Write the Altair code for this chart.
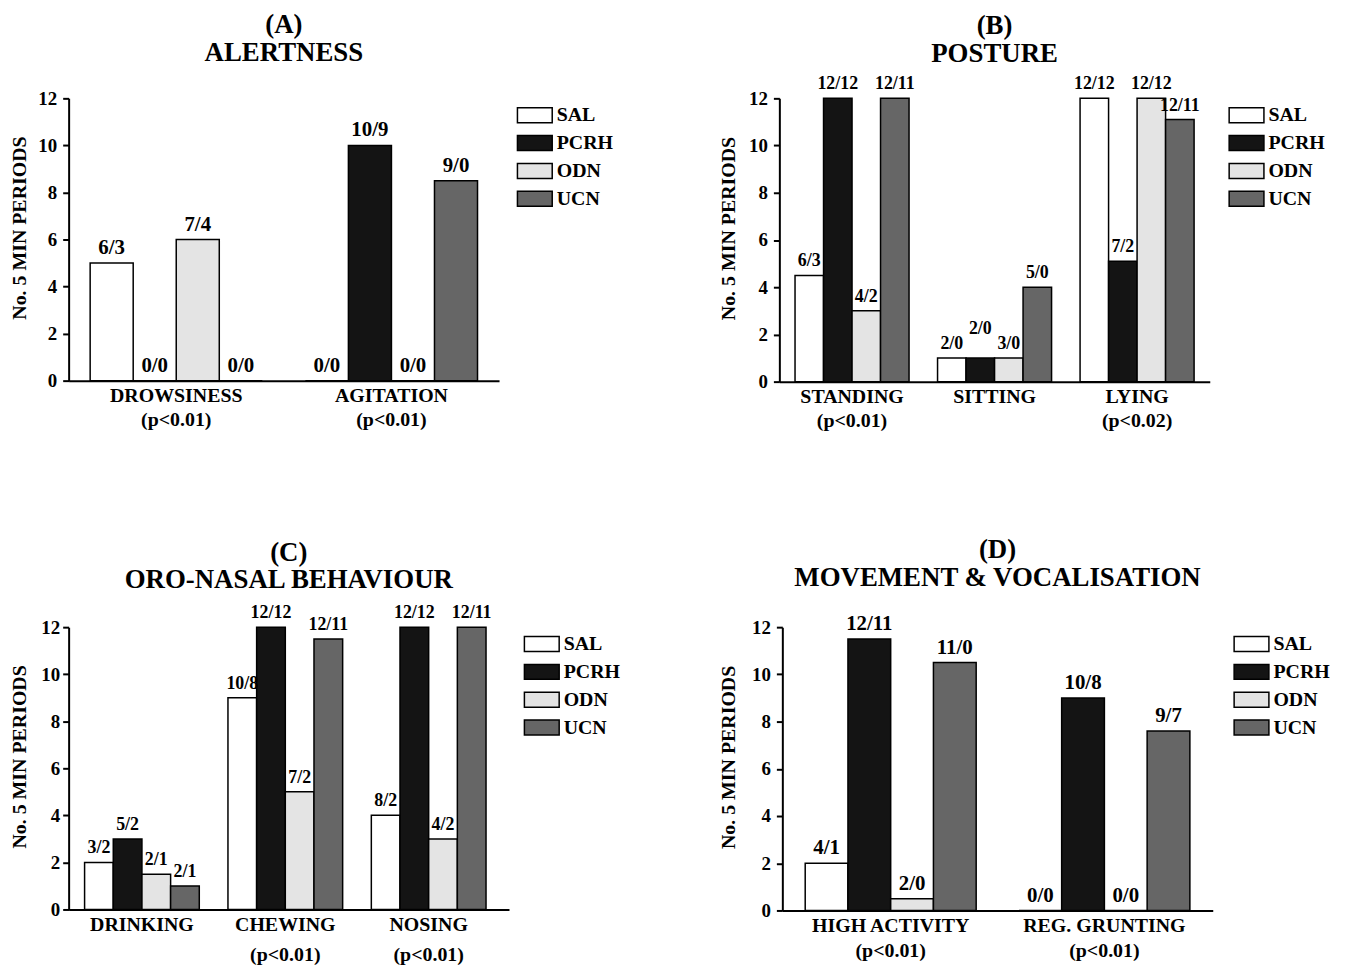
import altair as alt
import pandas as pd

FONT = "Liberation Serif"

groups = ["SAL", "PCRH", "ODN", "UCN"]
fills = ["#ffffff", "#141414", "#e4e4e4", "#666666"]

# Panel A
a_cats = ["DROWSINESS", "AGITATION"]
a_pvals = ["(p<0.01)", "(p<0.01)"]
a_values = {"SAL": [5, 0], "PCRH": [0, 10], "ODN": [6, 0], "UCN": [0, 8.5]}
a_labels = {"SAL": ["6/3", "0/0"], "PCRH": ["0/0", "10/9"], "ODN": ["7/4", "0/0"], "UCN": ["0/0", "9/0"]}

# Panel B
b_cats = ["STANDING", "SITTING", "LYING"]
b_pvals = ["(p<0.01)", "", "(p<0.02)"]
b_values = {"SAL": [4.5, 1, 12], "PCRH": [12, 1, 5.1], "ODN": [3, 1, 12], "UCN": [12, 4, 11.1]}
b_labels = {"SAL": ["6/3", "2/0", "12/12"], "PCRH": ["12/12", "2/0", "7/2"],
            "ODN": ["4/2", "3/0", "12/12"], "UCN": ["12/11", "5/0", "12/11"]}

# Panel C
c_cats = ["DRINKING", "CHEWING", "NOSING"]
c_pvals = ["", "(p<0.01)", "(p<0.01)"]
c_values = {"SAL": [2, 9, 4], "PCRH": [3, 12, 12], "ODN": [1.5, 5, 3], "UCN": [1, 11.5, 12]}
c_labels = {"SAL": ["3/2", "10/8", "8/2"], "PCRH": ["5/2", "12/12", "12/12"],
            "ODN": ["2/1", "7/2", "4/2"], "UCN": ["2/1", "12/11", "12/11"]}

# Panel D
d_cats = ["HIGH ACTIVITY", "REG. GRUNTING"]
d_pvals = ["(p<0.01)", "(p<0.01)"]
d_values = {"SAL": [2, 0], "PCRH": [11.5, 9], "ODN": [0.5, 0], "UCN": [10.5, 7.6]}
d_labels = {"SAL": ["4/1", "0/0"], "PCRH": ["12/11", "10/8"], "ODN": ["2/0", "0/0"], "UCN": ["11/0", "9/7"]}

y_ticks = [0, 2, 4, 6, 8, 10, 12]


def panel(letter, name, cats, pvals, values, labels, width, height, label_size,
          line_h, legend_offset, title_offset, pad_outer, ylab_pad, ytitle_pad,
          band_align=0.5, raised=()):
    axis_names = [c + ("|" + p if p else "") for c, p in zip(cats, pvals)]
    rows = []
    for g in groups:
        for ci, c in enumerate(cats):
            rows.append({"cat": c, "axis": axis_names[ci], "group": g,
                         "value": values[g][ci], "label": labels[g][ci],
                         "key": c + "/" + g})
    df = pd.DataFrame(rows)

    x = alt.X("axis:N", sort=axis_names,
              scale=alt.Scale(paddingInner=0.2, paddingOuter=pad_outer, align=band_align),
              axis=alt.Axis(title=None, labelExpr="split(datum.label, '|')",
                            ticks=False, domainColor="black", domainWidth=2,
                            labelFont=FONT, labelFontSize=20, labelFontWeight="bold",
                            labelColor="black", labelPadding=5, labelLineHeight=line_h,
                            labelAngle=0))
    xo = alt.XOffset("group:N", sort=groups,
                     scale=alt.Scale(paddingInner=0, paddingOuter=0))
    y = alt.Y("value:Q", scale=alt.Scale(domain=[0, 12], nice=False),
              axis=alt.Axis(values=y_ticks, grid=False, title="No. 5 MIN PERIODS",
                            domainColor="black", domainWidth=2, tickColor="black",
                            tickWidth=2, tickSize=6, labelFont=FONT, labelFontSize=19,
                            labelFontWeight="bold", labelColor="black",
                            labelPadding=ylab_pad, titleFont=FONT, titleFontSize=20,
                            titleFontWeight="bold", titleColor="black",
                            titlePadding=ytitle_pad, titleY=height / 2 - 12))

    bars = alt.Chart(df).mark_bar(stroke="black", strokeWidth=1.5).encode(
        x=x, xOffset=xo, y=y,
        fill=alt.Fill("group:N", sort=groups,
                      scale=alt.Scale(domain=groups, range=fills),
                      legend=alt.Legend(title=None, orient="right", offset=legend_offset,
                                        symbolType="M-2,-0.86H2V0.86H-2Z", symbolSize=306,
                                        symbolStrokeColor="black", symbolStrokeWidth=1.5,
                                        labelFont=FONT, labelFontSize=20,
                                        labelFontWeight="bold", labelColor="black",
                                        rowPadding=6, labelOffset=12, padding=7)))

    raised_keys = [c + "/" + g for c, g in raised]
    txt_style = dict(baseline="bottom", font=FONT, fontSize=label_size,
                     fontWeight="bold", color="black")
    layers = [bars]
    if raised_keys:
        normal = alt.Chart(df).transform_filter(
            {"not": alt.FieldOneOfPredicate(field="key", oneOf=raised_keys)}
        ).mark_text(dy=-5, **txt_style).encode(x=x, xOffset=xo, y=y, text="label:N")
        up = alt.Chart(df).transform_filter(
            alt.FieldOneOfPredicate(field="key", oneOf=raised_keys)
        ).mark_text(dy=-20, **txt_style).encode(x=x, xOffset=xo, y=y, text="label:N")
        layers += [normal, up]
    else:
        normal = alt.Chart(df).mark_text(dy=-5, **txt_style).encode(
            x=x, xOffset=xo, y=y, text="label:N")
        layers.append(normal)

    return alt.layer(*layers).properties(
        width=width, height=height,
        title=alt.TitleParams(text=[f"({letter})", name], font=FONT, fontSize=27,
                              fontWeight="bold", color="black", lineHeight=28,
                              anchor="middle", frame="group", offset=title_offset))


pA = panel("A", "ALERTNESS", a_cats, a_pvals, a_values, a_labels, 433, 284, 21, 24,
           19, 23, 0.1, 6, 8)
pB = panel("B", "POSTURE", b_cats, b_pvals, b_values, b_labels, 433, 285, 18, 24,
           20, 8, 0.11, 6, 10, raised=[("SITTING", "PCRH")])
pC = panel("C", "ORO-NASAL BEHAVIOUR", c_cats, c_pvals, c_values, c_labels, 443, 284, 18, 30,
           16, 10, 0.1357, 3, 11, band_align=0.41)
pD = panel("D", "MOVEMENT & VOCALISATION", d_cats, d_pvals, d_values, d_labels, 433, 285, 21, 25,
           22, 21, 0.107, 6, 13)

res = dict(x="independent", y="independent", fill="independent", xOffset="independent")

chart = alt.concat(
    pA, pB, pC, pD, columns=2,
    align=alt.RowColLayoutAlign(row="each", column="none"),
    spacing=alt.RowColnumber(row=106, column=92),
).resolve_scale(**res).resolve_legend(fill="independent").properties(
    padding={"left": 2, "top": 0, "right": 0, "bottom": 0}, background="white"
).configure_view(stroke=None)

chart.save("out.html", embed_options={"renderer": "svg", "actions": False})
